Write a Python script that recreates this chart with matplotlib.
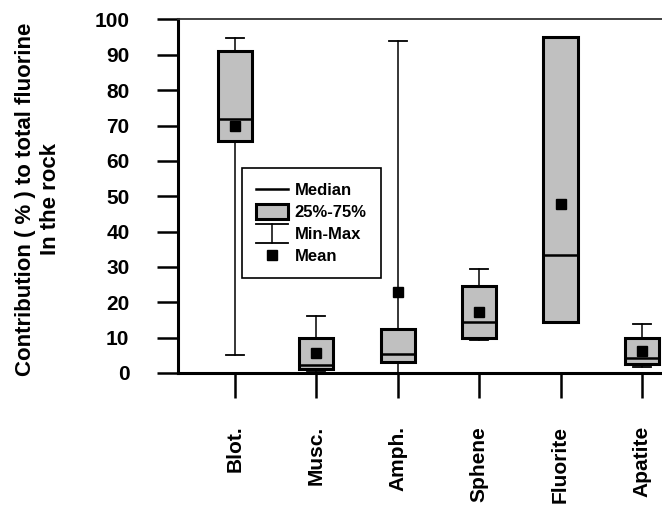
# box plot of fluorine contribution per mineral
import matplotlib.pyplot as plt
from matplotlib.patches import Patch
from matplotlib.lines import Line2D
from matplotlib.legend_handler import HandlerBase

plt.rcParams['font.family'] = ['Liberation Sans', 'DejaVu Sans']
plt.rcParams['font.weight'] = 'bold'

minerals = ["Blot.", "Musc.", "Amph.", "Sphene", "Fluorite", "Apatite"]
mins = [5.2, 0.5, 0.0, 9.4, 14.5, 1.7]
q1s = [65.6, 1.1, 3.1, 9.9, 14.5, 2.6]
medians = [71.8, 2.3, 5.4, 14.4, 33.4, 4.2]
q3s = [91.0, 9.9, 12.4, 24.6, 95.0, 9.9]
maxs = [94.8, 16.1, 93.8, 29.4, 95.0, 13.9]
means = [69.9, 5.7, 22.9, 17.2, 47.8, 6.3]
yticks = [0, 10, 20, 30, 40, 50, 60, 70, 80, 90, 100]

gray = '#c0c0c0'

fig = plt.figure(figsize=(6.62, 5.09), dpi=100)
ax = fig.add_axes([0.2689, 0.2672, 0.7311, 0.6945])

stats = []
for name, lo, a, md, b, hi, mn in zip(minerals, mins, q1s, medians, q3s, maxs, means):
    stats.append(dict(label=name, whislo=lo, q1=a, med=md, q3=b, whishi=hi, mean=mn))

positions = list(range(1, len(minerals) + 1))
ax.bxp(stats, positions=positions, widths=0.42, capwidths=0.22,
       showmeans=True, showfliers=False, patch_artist=True,
       boxprops=dict(facecolor=gray, edgecolor='black', linewidth=2.2),
       medianprops=dict(color='black', linewidth=1.8),
       whiskerprops=dict(color='black', linewidth=1.1),
       capprops=dict(color='black', linewidth=1.3),
       meanprops=dict(marker='s', markerfacecolor='black',
                      markeredgecolor='black', markersize=6.5))

ax.set_xlim(0.30, 6.246)
ax.set_ylim(0, 100)
ax.set_yticks(yticks)
ax.set_xticks(positions, minerals, rotation=90)

ax.spines['right'].set_visible(False)
ax.spines['top'].set_linewidth(1.3)
ax.spines['top'].set_color('#333333')
ax.spines['left'].set_linewidth(2.2)
ax.spines['bottom'].set_linewidth(2.2)

ax.tick_params(axis='y', length=15, width=1.8, pad=20, labelsize=15)
ax.tick_params(axis='x', length=18, width=1.8, pad=20, labelsize=15)

fig.text(38 / 662, 1 - 199 / 509,
         "Contribution ( % ) to total fluorine\nIn the rock",
         rotation=90, ha='center', va='center', ma='center',
         fontsize=16, fontweight='bold', linespacing=1.2)


# legend symbol for the min-max whisker
class MinMaxHandler(HandlerBase):
    def create_artists(self, legend, orig_handle, xdescent, ydescent,
                       width, height, fontsize, trans):
        cx = width / 2 - xdescent
        cy = height / 2 - ydescent
        half = 0.55 * fontsize
        x0 = -xdescent
        x1 = width - xdescent
        stem = Line2D([cx, cx], [cy - half, cy + half], color='black', lw=1.1, transform=trans)
        top = Line2D([x0, x1], [cy + half, cy + half], color='black', lw=1.3, transform=trans)
        bot = Line2D([x0, x1], [cy - half, cy - half], color='black', lw=1.3, transform=trans)
        return [stem, top, bot]


median_h = Line2D([], [], color='black', lw=1.8)
box_h = Patch(facecolor=gray, edgecolor='black', lw=2.2)
minmax_h = object()
mean_h = Line2D([], [], color='black', marker='s', linestyle='none', markersize=6.5)

leg = ax.legend([median_h, box_h, minmax_h, mean_h],
                ["Median", "25%-75%", "Min-Max", "Mean"],
                handler_map={object: MinMaxHandler()},
                loc='upper left', bbox_to_anchor=(0.132, 0.58),
                borderaxespad=0, fontsize=12, fancybox=False,
                framealpha=1, edgecolor='black', handlelength=1.9,
                handleheight=1.0, handletextpad=0.4, labelspacing=0.35,
                borderpad=0.85)
leg.get_frame().set_linewidth(1.2)

plt.savefig('out.png', dpi=100)
